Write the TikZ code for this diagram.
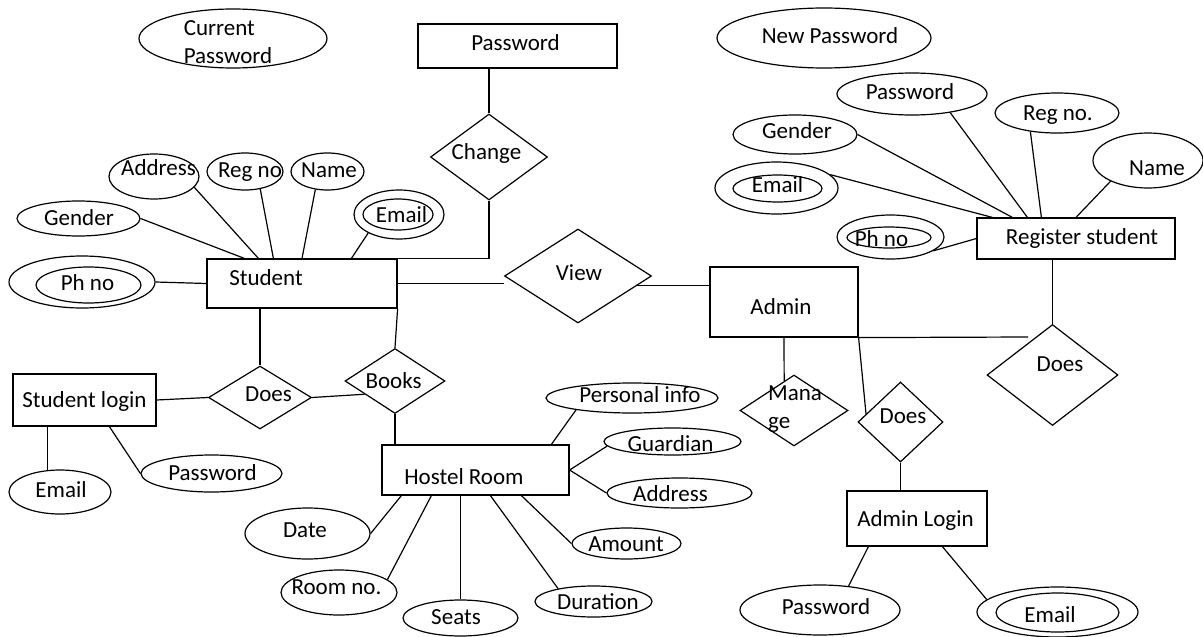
\documentclass[tikz,border=0pt]{standalone}
\usepackage{fontspec}
\setmainfont{Carlito}
\usetikzlibrary{shapes.geometric,calc}
\newcommand\erfont{\fontsize{23}{27}\selectfont}
\newcommand\erfonttwo{\fontsize{23}{28}\selectfont}
\tikzset{
  er/.style={draw, line width=1.2pt, inner sep=0pt, font=\erfont},
  txt/.style={inner sep=0pt, text height=14.5pt, text depth=0pt, font=\erfont},
  lines2/.style={inner sep=0pt, align=left, font=\erfonttwo},
  attr/.style n args={5}{er, ellipse, minimum width=#1, minimum height=#2,
    label={[txt, shift={(#4,#5)}]center:#3}},
  dbl/.style n args={2}{er, ellipse, minimum width=#1, minimum height=#2},
  entity/.style n args={5}{er, rectangle, minimum width=#1, minimum height=#2,
    label={[txt, shift={(#4,#5)}]center:#3}},
  rel/.style n args={5}{er, diamond, minimum width=#1, minimum height=#2,
    label={[txt, shift={(#4,#5)}]center:#3}},
  link/.style={line width=1.2pt},
}
\begin{document}
\begin{tikzpicture}[x=1pt, y=-1pt]
\fill[white] (0,0) rectangle (1203,637);
\useasboundingbox (0,0) rectangle (1203,637);

% entities
\node[entity={199}{44}{Password}{-2}{-3}] (pwdbox) at (517.5,46) {};
\node[entity={190}{49}{Student}{-36}{-5}] (student) at (302,283.5) {};
\node[entity={148}{70}{Admin}{-3}{5}] (admin) at (784,302) {};
\node[entity={198}{41}{Register student}{6}{-1.5}] (regstu) at (1076,238.5) {};
\node[entity={143}{52}{Student login}{0}{0}] (stulogin) at (84.5,400) {};
\node[entity={187}{50}{Hostel Room}{-11.5}{7}] (hostel) at (475.5,470) {};
\node[entity={140}{55}{Admin Login}{-1.5}{1}] (adminlogin) at (917,518.5) {};

% relationships
\node[rel={117}{86}{Change}{-2.5}{-4.5}] (change) at (489,157) {};
\node[rel={147}{94}{View}{1}{-2.5}] (view) at (578,276) {};
\node[rel={103}{63}{Does}{8.5}{-3}] (does1) at (260,397.5) {};
\node[rel={100}{65}{Books}{-1.5}{0}] (books) at (395,381) {};
\node[er, diamond, minimum width=108, minimum height=71,
  label={[lines2, shift={(1,-1)}]center:Mana\\ge}] (manage) at (794,410.5) {};
\node[rel={85}{80}{Does}{2.5}{-6}] (does2) at (900.5,422) {};
\node[rel={131}{101}{Does}{7.5}{-10.5}] (does3) at (1052.5,375) {};

% attributes
\node[er, ellipse, minimum width=188, minimum height=59,
  label={[lines2, shift={(-5,4)}]center:Current\\Password}] (curpwd) at (233,38.5) {};
\node[attr={90}{45}{Address}{4.5}{-8}] (address) at (154,176.5) {};
\node[attr={76}{37}{Reg no}{5}{-1}] (regno1) at (245,171.5) {};
\node[attr={73}{37}{Name}{1.5}{-1}] (name1) at (327.5,171.5) {};
\node[attr={90}{49}{Email}{2.5}{1}] (email1) at (399,214.5) {};
\node[dbl={70}{31}] (email1in) at (398,214.5) {};
\node[attr={123}{35}{Gender}{0.5}{0}] (gender1) at (78.5,218.5) {};
\node[attr={146}{52}{Ph no}{5.5}{1.5}] (phno1) at (82,282) {};
\node[dbl={105}{36}] (phno1in) at (88.5,285) {};
\node[attr={214}{60}{New Password}{6}{-1.5}] (newpwd) at (824,38) {};
\node[attr={150}{42}{Password}{-2}{-2}] (pwd2) at (912,94) {};
\node[attr={124}{40}{Reg no.}{1}{0}] (regno2) at (1057,113) {};
\node[attr={110}{55}{Name}{9}{8}] (name2) at (1148,160.5) {};
\node[attr={124}{39}{Gender}{2}{-3.5}] (gender2) at (795,134.5) {};
\node[attr={123}{52}{Email}{1}{-2.5}] (email2) at (776.5,188) {};
\node[dbl={89}{27}] (email2in) at (777.5,188.5) {};
\node[attr={107}{44}{Ph no}{-9}{2}] (phno2) at (890.5,237) {};
\node[dbl={84}{21}] (phno2in) at (889,237.5) {};
\node[attr={172}{30}{Personal info}{8}{-3}] (pi) at (632,398) {};
\node[attr={137}{27}{Guardian}{-2}{2.5}] (guardian) at (672.5,441.5) {};
\node[attr={145}{30}{Address}{-9}{1.5}] (address2) at (679.5,493) {};
\node[attr={109}{31}{Amount}{-0.5}{0.5}] (amount) at (626.5,543.5) {};
\node[attr={117}{31}{Duration}{4.5}{0.5}] (duration) at (593.5,601.5) {};
\node[attr={115}{36}{Seats}{-4.5}{-1}] (seats) at (460.5,618) {};
\node[attr={116}{45}{Room no.}{-2.5}{-5}] (roomno) at (339,592.5) {};
\node[attr={125}{51}{Date}{-2.5}{-3.5}] (date) at (307.5,533.5) {};
\node[attr={102}{44}{Email}{1}{-1.5}] (email3) at (60,492) {};
\node[attr={141}{37}{Password}{1}{0}] (pwd3) at (211.5,473.5) {};
\node[attr={160}{50}{Password}{6}{-3}] (pwd4) at (820,610) {};
\node[attr={161}{50}{Email}{-7.5}{3}] (email4) at (1057.5,612) {};
\node[dbl={123}{39}] (email4in) at (1057.5,612.5) {};

% student attributes
\draw[link] (gender1.east) -- ([xshift=38]student.north west);
\draw[link] (address.345) -- ([xshift=52]student.north west);
\draw[link] (regno1.311) -- ([xshift=67]student.north west);
\draw[link] (name1.236) -- (student.north);
\draw[link] (email1.211) -- ([xshift=145]student.north west);
\draw[link] (phno1.east) -- (student.west);

% change password
\draw[link] (change.north |- pwdbox.south) -- (change.north);
\draw[link] (change.south) |- (student.north east);

% view
\coordinate (v1) at ($(view.east)!0.2!(view.south)$);
\draw[link] (student.east) -- (student.east -| view.west);
\draw[link] (v1) -- (v1 -| admin.west);

% login and booking
\draw[link] (does1.north |- student.south) -- (does1.north);
\draw[link] (stulogin.east) -- (does1.west);
\draw[link] (does1.east) -- ($(books.west)!0.4!(books.south)$);
\draw[link] (student.south east) -- (books.north);
\draw[link] (books.south) -- (books.south |- hostel.north);
\draw[link] (stulogin.south -| email3.120) -- (email3.120);
\draw[link] ([xshift=97]stulogin.south west) -- (pwd3.west);

% hostel room attributes
\draw[link] ([xshift=170]hostel.north west) -- (pi.192);
\draw[link] (hostel.east) -- (guardian.184);
\draw[link] (hostel.east) -- (address2.west);
\draw[link] ([xshift=140]hostel.south west) -- (amount.west);
\draw[link] ([xshift=109]hostel.south west) -- (duration.160);
\draw[link] (seats.north |- hostel.south) -- (seats.north);
\draw[link] ([xshift=50]hostel.south west) -- (roomno.15);
\draw[link] ([xshift=20]hostel.south west) -- (date.east);

% admin side
\coordinate (admend) at (1028,337);
\draw[link] (admin.south) -- ($(manage.north)!0.18!(manage.west)$);
\draw[link] (admin.south east) -- ($(does2.west)!0.2!(does2.north)$);
\draw[link] (does2.south) -- (does2.south |- adminlogin.north);
\draw[link] (admin.south east) -- (admend);
\draw[link] (does3.north |- regstu.south) -- (does3.north);
\draw[link] ([xshift=22]adminlogin.south west) -- (pwd4.40);
\draw[link] ([xshift=96]adminlogin.south west) -- (email4.170);

% register student attributes
\draw[link] (gender2.east) -- ([xshift=36]regstu.north west);
\draw[link] (pwd2.334) -- ([xshift=51]regstu.north west);
\draw[link] (regno2.215) -- ([xshift=65]regstu.north west);
\draw[link] (name2.209) -- (regstu.north);
\draw[link] (email2.14) -- ([xshift=16]regstu.north west);
\draw[link] (phno2.342) -- (regstu.west);
\end{tikzpicture}
\end{document}
